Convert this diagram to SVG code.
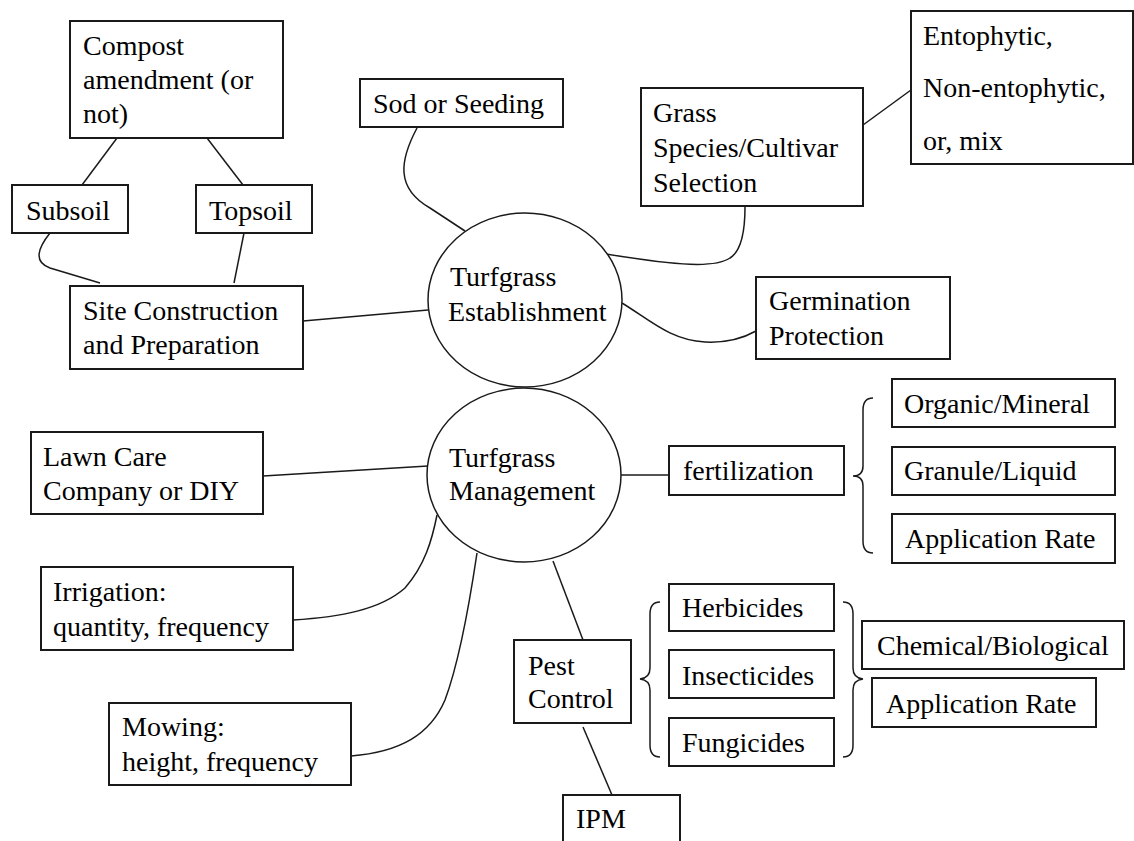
<svg xmlns="http://www.w3.org/2000/svg" width="1134" height="841" viewBox="0 0 1134 841">
  <style>
    .box { fill: #ffffff; stroke: #1a1a1a; stroke-width: 2; }
    .hub { fill: #ffffff; stroke: #1a1a1a; stroke-width: 1.5; }
    .link { fill: none; stroke: #1a1a1a; stroke-width: 1.5; }
    .brace { fill: none; stroke: #1a1a1a; stroke-width: 1.5; }
    .lbl { font-size: 28px; fill: #000000; }
  </style>
  <rect width="1134" height="841" fill="#ffffff"/>

  <!-- connectors -->
  <g id="connectors">
    <path class="link" d="M117,138 L82,185"/>
    <path class="link" d="M207,138 L243,185"/>
    <path class="link" d="M50,233 C38,248 33,262 50,268 L100,283"/>
    <path class="link" d="M244,233 L234,283"/>
    <path class="link" d="M303,321 L428,310"/>
    <path class="link" d="M417,128 C400,160 395,188 430,208 L465,231"/>
    <path class="link" d="M745,207 C745,225 743,250 730,258 C715,268 680,266 606,254"/>
    <path class="link" d="M863,125 L911,90"/>
    <path class="link" d="M622,303 C650,320 670,340 705,342 C725,343 740,340 756,331"/>
    <path class="link" d="M263,476 L428,466"/>
    <path class="link" d="M293,620 C340,617 380,610 405,588 C425,565 432,540 437,515"/>
    <path class="link" d="M351,756 C400,752 430,735 445,700 C460,660 470,600 477,553"/>
    <path class="link" d="M621,475 L669,475"/>
    <path class="link" d="M553,561 L583,640"/>
    <path class="link" d="M583,727 L612,795"/>
    <!-- braces -->
    <path class="brace" d="M873,398 Q863,398 863,410 L863,466 Q863,476 853,476 Q863,476 863,486 L863,541 Q863,553 873,553"/>
    <path class="brace" d="M660,602 Q650,602 650,614 L650,668 Q650,678 640,679 Q650,680 650,690 L650,745 Q650,757 660,757"/>
    <path class="brace" d="M843,602 Q853,602 853,614 L853,668 Q853,678 863,679 Q853,680 853,690 L853,745 Q853,757 843,757"/>
  </g>

  <g class="lbl" font-family="'Liberation Serif', 'DejaVu Serif', 'Times New Roman', serif">
  <!-- establishment branch -->
  <g id="compost">
    <rect class="box" x="70" y="21" width="213" height="117"/>
    <text x="83" y="55">Compost</text>
    <text x="83" y="89">amendment (or</text>
    <text x="83" y="123">not)</text>
  </g>
  <g id="subsoil">
    <rect class="box" x="12" y="185" width="116" height="48"/>
    <text x="26" y="220">Subsoil</text>
  </g>
  <g id="topsoil">
    <rect class="box" x="196" y="185" width="116" height="48"/>
    <text x="209" y="220">Topsoil</text>
  </g>
  <g id="site">
    <rect class="box" x="70" y="286" width="233" height="83"/>
    <text x="83" y="320">Site Construction</text>
    <text x="83" y="354">and Preparation</text>
  </g>
  <g id="sod">
    <rect class="box" x="360" y="79" width="203" height="48"/>
    <text x="373" y="113">Sod or Seeding</text>
  </g>
  <g id="grass">
    <rect class="box" x="641" y="88" width="222" height="118"/>
    <text x="653" y="122">Grass</text>
    <text x="653" y="157">Species/Cultivar</text>
    <text x="653" y="192">Selection</text>
  </g>
  <g id="endophyte">
    <rect class="box" x="911" y="11" width="222" height="153"/>
    <text x="923" y="45">Entophytic,</text>
    <text x="923" y="97">Non-entophytic,</text>
    <text x="923" y="150">or, mix</text>
  </g>
  <g id="germination">
    <rect class="box" x="756" y="277" width="194" height="82"/>
    <text x="769" y="310">Germination</text>
    <text x="769" y="345">Protection</text>
  </g>
  <g id="establishment">
    <ellipse class="hub" cx="525" cy="300" rx="97" ry="87"/>
    <text x="450" y="286">Turfgrass</text>
    <text x="448" y="321">Establishment</text>
  </g>

  <!-- management branch -->
  <g id="management">
    <ellipse class="hub" cx="524" cy="475" rx="97" ry="87"/>
    <text x="449" y="467">Turfgrass</text>
    <text x="449" y="500">Management</text>
  </g>
  <g id="lawncare">
    <rect class="box" x="31" y="432" width="232" height="82"/>
    <text x="43" y="466">Lawn Care</text>
    <text x="43" y="500">Company or DIY</text>
  </g>
  <g id="irrigation">
    <rect class="box" x="41" y="567" width="252" height="83"/>
    <text x="53" y="601">Irrigation:</text>
    <text x="53" y="636">quantity, frequency</text>
  </g>
  <g id="mowing">
    <rect class="box" x="109" y="703" width="242" height="82"/>
    <text x="122" y="736">Mowing:</text>
    <text x="122" y="771">height, frequency</text>
  </g>
  <g id="fertilization">
    <rect class="box" x="669" y="446" width="175" height="49"/>
    <text x="683" y="480">fertilization</text>
  </g>
  <g id="organic">
    <rect class="box" x="892" y="379" width="223" height="48"/>
    <text x="904" y="413">Organic/Mineral</text>
  </g>
  <g id="granule">
    <rect class="box" x="892" y="447" width="223" height="48"/>
    <text x="904" y="480">Granule/Liquid</text>
  </g>
  <g id="fert-rate">
    <rect class="box" x="892" y="514" width="223" height="49"/>
    <text x="905" y="548">Application Rate</text>
  </g>
  <g id="pest">
    <rect class="box" x="514" y="640" width="117" height="83"/>
    <text x="528" y="675">Pest</text>
    <text x="528" y="708">Control</text>
  </g>
  <g id="herbicides">
    <rect class="box" x="669" y="584" width="165" height="47"/>
    <text x="682" y="617">Herbicides</text>
  </g>
  <g id="insecticides">
    <rect class="box" x="669" y="650" width="165" height="48"/>
    <text x="682" y="685">Insecticides</text>
  </g>
  <g id="fungicides">
    <rect class="box" x="669" y="718" width="165" height="48"/>
    <text x="682" y="752">Fungicides</text>
  </g>
  <g id="chem-bio">
    <rect class="box" x="862" y="621" width="262" height="48"/>
    <text x="877" y="655">Chemical/Biological</text>
  </g>
  <g id="pest-rate">
    <rect class="box" x="872" y="678" width="224" height="49"/>
    <text x="886" y="713">Application Rate</text>
  </g>
  <g id="ipm">
    <rect class="box" x="563" y="795" width="117" height="60"/>
    <text x="576" y="828">IPM</text>
  </g>
  </g>
</svg>
